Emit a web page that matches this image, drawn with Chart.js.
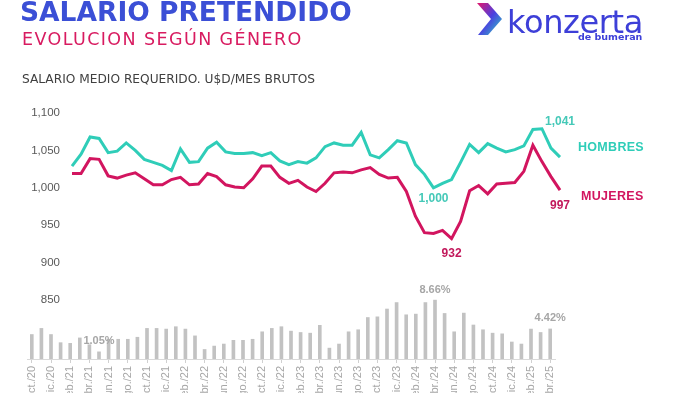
<!DOCTYPE html>
<html>
<head>
<meta charset="utf-8">
<script src="https://cdn.jsdelivr.net/npm/chart.js@4/dist/chart.umd.min.js"></script>
<style>
  html, body { margin: 0; padding: 0; background: #fff; width: 700px; height: 393px; overflow: hidden; }
  #lienzo { position: relative; width: 700px; height: 393px; overflow: hidden; }
  #lienzo canvas { position: absolute; left: 0; top: 0; }
  .txt { position: absolute; white-space: nowrap; line-height: 1; }
  .titulo { left: 20px; top: -4px; font: bold 26.5px "DejaVu Sans", sans-serif; color: #3b4fd6; }
  .subtitulo { left: 22px; top: 29px; font: 500 17.5px "DejaVu Sans", sans-serif; color: #d81b60; letter-spacing: 1.4px; }
  .eje { left: 22px; top: 72px; font: 12.2px "DejaVu Sans", sans-serif; color: #404040; }
  .marca { left: 507px; top: 3px; font: 32px "DejaVu Sans", sans-serif; color: #3d3fd8; letter-spacing: -0.4px; }
  .bumeran { left: 578px; top: 31px; font: bold 9.5px "DejaVu Sans", sans-serif; color: #3d3fd8; }
  .serie { font: bold 12.5px "Liberation Sans", Arial, sans-serif; letter-spacing: 0.3px; }
  svg { position: absolute; left: 475px; top: 1px; }
</style>
</head>
<body>
<div id="lienzo">
  <canvas id="brecha" width="700" height="440" style="width:700px;height:440px"></canvas>
  <canvas id="lineas" width="700" height="393" style="width:700px;height:393px"></canvas>

  <div class="txt titulo">SALARIO PRETENDIDO</div>
  <div class="txt subtitulo">EVOLUCION SEGÚN GÉNERO</div>
  <div class="txt eje">SALARIO MEDIO REQUERIDO. U$D/MES BRUTOS</div>

  <svg width="30" height="36" viewBox="0 0 30 36">
    <defs>
      <linearGradient id="chev" x1="0" y1="0" x2="1" y2="1">
        <stop offset="0" stop-color="#e4176b"/>
        <stop offset="0.5" stop-color="#4a3fe0"/>
        <stop offset="1" stop-color="#2ed3c0"/>
      </linearGradient>
    </defs>
    <polygon points="2,2 13,2 27,18 13,34 3,34 16,18" fill="url(#chev)"/>
  </svg>
  <div class="txt marca">konzerta</div>
  <div class="txt bumeran">de bumeran</div>

  <div class="txt serie" style="left:578px;top:140px;color:#2fcdb8">HOMBRES</div>
  <div class="txt serie" style="left:581px;top:189px;color:#d2155f">MUJERES</div>
</div>

<script>
// ==============================
// DATOS
// ==============================
const meses = [
  'oct./20', 'nov./20', 'dic./20',
  'ene./21', 'feb./21', 'mar./21', 'abr./21', 'may./21', 'jun./21', 'jul./21', 'ago./21', 'sept./21', 'oct./21', 'nov./21', 'dic./21',
  'ene./22', 'feb./22', 'mar./22', 'abr./22', 'may./22', 'jun./22', 'jul./22', 'ago./22', 'sept./22', 'oct./22', 'nov./22', 'dic./22',
  'ene./23', 'feb./23', 'mar./23', 'abr./23', 'may./23', 'jun./23', 'jul./23', 'ago./23', 'sept./23', 'oct./23', 'nov./23', 'dic./23',
  'ene./24', 'feb./24', 'mar./24', 'abr./24', 'may./24', 'jun./24', 'jul./24', 'ago./24', 'sept./24', 'oct./24', 'nov./24', 'dic./24',
  'ene./25', 'feb./25', 'mar./25', 'abr./25'
];

const hombres = [
  1029, 1045, 1068, 1066, 1047, 1049, 1060, 1050, 1038, 1034,
  1030, 1023, 1052, 1034, 1035, 1053, 1061, 1048, 1046, 1046,
  1047, 1043, 1047, 1036, 1031, 1035, 1033, 1040, 1055, 1060,
  1057, 1057, 1074, 1044, 1040, 1051, 1063, 1060, 1031, 1018,
  1000, 1006, 1011, 1034, 1058, 1047, 1059, 1053, 1048, 1051,
  1056, 1078, 1079, 1053, 1041
];

const mujeres = [
  1019, 1019, 1039, 1038, 1016, 1013, 1017, 1020, 1012, 1004,
  1004, 1011, 1014, 1004, 1005, 1019, 1015, 1004, 1001, 1000,
  1012, 1029, 1029, 1014, 1006, 1010, 1001, 995, 1006, 1020,
  1021, 1020, 1024, 1027, 1018, 1013, 1014, 995, 962, 940,
  939, 943, 932, 955, 996, 1003, 992, 1005, 1006, 1007,
  1022, 1057, 1035, 1015, 997
];

// brecha salarial en %
const brecha = [
  3.6, 4.5, 3.6, 2.4, 2.3, 3.1, 2.1, 1.05, 2.9, 2.9,
  2.9, 3.2, 4.5, 4.5, 4.4, 4.75, 4.4, 3.4, 1.4, 1.9,
  2.2, 2.75, 2.75, 2.9, 4.0, 4.5, 4.75, 4.1, 3.9, 3.8,
  4.95, 1.6, 2.2, 4.0, 4.3, 6.1, 6.2, 7.35, 8.3, 6.5,
  6.6, 8.3, 8.66, 6.7, 4.0, 6.75, 5.0, 4.3, 3.8, 3.7,
  2.5, 2.2, 4.4, 3.9, 4.42
];

const ticksY = [850, 900, 950, 1000, 1050, 1100];

const TEAL = '#2fcdb8';
const MAGENTA = '#d2155f';
const GRIS = '#c2c2c2';

// ==============================
// BARRAS (brecha)
// ==============================
const etiquetasBrecha = {
  id: 'etiquetasBrecha',
  afterDatasetsDraw(chart) {
    const { ctx } = chart;
    const meta = chart.getDatasetMeta(0);
    const mostrar = [7, 42, brecha.length - 1];
    ctx.save();
    ctx.font = 'bold 11px "Liberation Sans", Arial, sans-serif';
    ctx.fillStyle = '#a6a6a6';
    ctx.textAlign = 'center';
    ctx.textBaseline = 'bottom';
    mostrar.forEach(i => {
      const bar = meta.data[i];
      ctx.fillText(brecha[i].toFixed(2) + '%', bar.x, bar.y - 5);
    });
    ctx.restore();
  }
};

new Chart(document.getElementById('brecha'), {
  type: 'bar',
  data: {
    labels: meses,
    datasets: [{
      data: brecha,
      backgroundColor: GRIS,
      barThickness: 3
    }]
  },
  options: {
    responsive: false,
    animation: false,
    layout: { padding: { left: 27, right: 145, top: 291, bottom: 0 } },
    plugins: { legend: { display: false }, tooltip: { enabled: false } },
    scales: {
      x: {
        grid: {
          display: true,
          drawOnChartArea: false,
          offset: false,
          tickLength: 4,
          color: c => (c.index % 2 === 0 ? '#d0d0d0' : 'rgba(0,0,0,0)')
        },
        border: { color: '#d9d9d9' },
        ticks: {
          autoSkip: false,
          minRotation: 90,
          maxRotation: 90,
          padding: 3,
          color: '#a6a6a6',
          font: { size: 11, family: '"Liberation Sans", Arial, sans-serif' },
          callback(v, i) { return i % 2 === 0 ? this.getLabelForValue(v) : ''; }
        },
        afterFit(s) { s.height = 81; }
      },
      y: { display: false, min: 0, max: 10 }
    }
  },
  plugins: [etiquetasBrecha]
});

// ==============================
// LINEAS (salario)
// ==============================
const etiquetasLineas = {
  id: 'etiquetasLineas',
  afterDatasetsDraw(chart) {
    const { ctx } = chart;
    const h = chart.getDatasetMeta(0).data;
    const m = chart.getDatasetMeta(1).data;
    const ult = hombres.length - 1;
    const minH = hombres.indexOf(Math.min(...hombres));
    const minM = mujeres.indexOf(Math.min(...mujeres));
    const fmt = v => v.toLocaleString('en-US');

    ctx.save();
    ctx.font = 'bold 12px "Liberation Sans", Arial, sans-serif';
    ctx.textAlign = 'center';
    ctx.textBaseline = 'middle';

    ctx.fillStyle = '#45c9b8';
    ctx.fillText(fmt(hombres[ult]), h[ult].x, h[ult].y - 35);
    ctx.fillText(fmt(hombres[minH]), h[minH].x, h[minH].y + 11);

    ctx.fillStyle = '#c2185b';
    ctx.fillText(fmt(mujeres[minM]), m[minM].x, m[minM].y + 15);
    ctx.fillText(fmt(mujeres[ult]), m[ult].x, m[ult].y + 16);
    ctx.restore();
  }
};

new Chart(document.getElementById('lineas'), {
  type: 'line',
  data: {
    labels: meses,
    datasets: [
      { label: 'HOMBRES', data: hombres, borderColor: TEAL, borderWidth: 3, pointRadius: 0, tension: 0 },
      { label: 'MUJERES', data: mujeres, borderColor: MAGENTA, borderWidth: 3, pointRadius: 0, tension: 0 }
    ]
  },
  options: {
    responsive: false,
    animation: false,
    layout: { padding: { left: 0, right: 140, top: 113, bottom: 93 } },
    plugins: { legend: { display: false }, tooltip: { enabled: false } },
    scales: {
      x: { display: false, offset: false },
      y: {
        min: ticksY[0],
        max: ticksY[ticksY.length - 1],
        grid: { display: false, drawTicks: false },
        border: { display: false },
        afterBuildTicks(s) { s.ticks = ticksY.map(v => ({ value: v })); },
        ticks: {
          padding: 12,
          color: '#595959',
          font: { size: 11.5, family: '"Liberation Sans", Arial, sans-serif' },
          callback: v => v.toLocaleString('en-US')
        },
        afterFit(s) { s.width = 72; }
      }
    }
  },
  plugins: [etiquetasLineas]
});
</script>
</body>
</html>
